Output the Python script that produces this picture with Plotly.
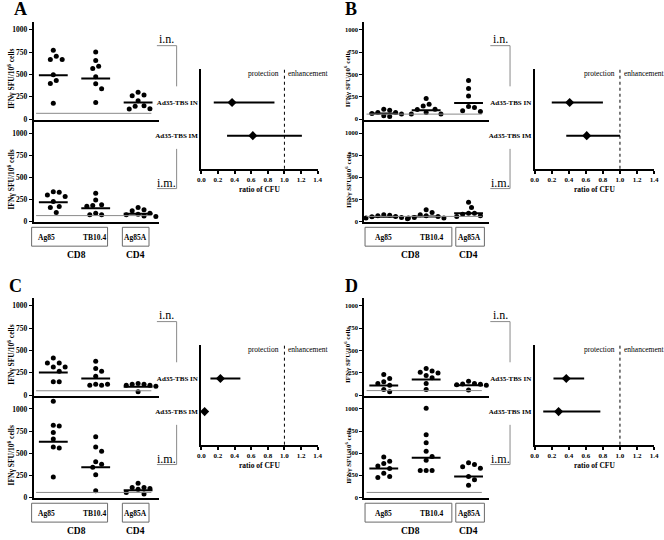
import plotly.graph_objects as go

W, H = 664, 540
FONT = "Liberation Serif"

# ---------------- data ----------------
categories = ["Ag85", "TB10.4", "Ag85A"]
tcell_labels = ["CD8", "CD4"]
route_labels = ["i.n.", "i.m."]
vaccine_labels = ["Ad35-TBS IN", "Ad35-TBS IM"]
panel_letters = ["A", "B", "C", "D"]
y_ticks = [0, 250, 500, 750, 1000]
ratio_ticks = [0.0, 0.2, 0.4, 0.6, 0.8, 1.0, 1.2, 1.4]
y_title = "IFNγ SFU/10<sup>6</sup> cells"
x_title = "ratio of CFU"

# Panel A
A_in_ag85 = [770, 704, 667, 667, 496, 433, 400, 178]
A_in_tb = [752, 656, 593, 567, 474, 396, 341, 185]
A_in_ag85a = [300, 270, 262, 205, 150, 145, 112, 115]
A_in_med = [490, 456, 185]
A_im_ag85 = [336, 330, 299, 280, 224, 168, 157, 100]
A_im_tb = [317, 243, 187, 180, 172, 93, 75, 75]
A_im_ag85a = [157, 131, 120, 93, 80, 75, 60, 56]
A_im_med = [216, 149, 85]
A_thr = [65, 65]
A_ratio = [0.37, 0.62]
A_lo = [0.15, 0.31]
A_hi = [0.88, 1.21]

# Panel B
B_in_ag85 = [111, 100, 74, 74, 63, 56, 37, 30]
B_in_tb = [230, 167, 148, 111, 108, 74, 56, 56]
B_in_ag85a = [433, 344, 259, 141, 130, 93, 85]
B_in_med = [63, 100, 181]
B_im_ag85 = [75, 70, 63, 56, 52, 45, 37, 30]
B_im_tb = [131, 100, 75, 63, 56, 45, 37, 37]
B_im_ag85a = [216, 157, 93, 93, 80, 63, 56]
B_im_med = [52, 56, 93]
B_thr = [56, 56]
B_ratio = [0.41, 0.61]
B_lo = [0.20, 0.37]
B_hi = [0.80, 1.00]

# Panel C
C_in_ag85 = [415, 359, 359, 315, 315, 267, 148, 148]
C_in_tb = [378, 296, 267, 211, 122, 111, 111, 122]
C_in_ag85a = [130, 122, 122, 111, 111, 100, 37]
C_in_med = [252, 185, 93]
C_im_ag85 = [1088, 817, 806, 733, 659, 568, 557, 231]
C_im_tb = [685, 568, 520, 403, 374, 341, 256, 73]
C_im_ag85a = [158, 110, 110, 100, 90, 55, 37]
C_im_med = [630, 341, 80]
C_thr = [48, 55]
C_ratio = [0.23, 0.04]
C_lo = [0.11, 0.035]
C_hi = [0.47, 0.045]

# Panel D
D_in_ag85 = [230, 185, 148, 130, 111, 63, 37]
D_in_tb = [296, 270, 256, 248, 219, 193, 130, 63]
D_in_ag85a = [156, 130, 125, 120, 115, 110, 56]
D_in_med = [107, 174, 111]
D_im_ag85 = [455, 407, 382, 353, 327, 273, 236, 225]
D_im_tb = [1007, 709, 618, 520, 462, 418, 302, 302, 302]
D_im_ag85a = [390, 370, 345, 330, 236, 200, 135]
D_im_med = [327, 447, 236]
D_thr = [50, 55]
D_ratio = [0.37, 0.28]
D_lo = [0.22, 0.10]
D_hi = [0.58, 0.77]

panels = [
    dict(inn=[A_in_ag85, A_in_tb, A_in_ag85a], im=[A_im_ag85, A_im_tb, A_im_ag85a],
         med=[A_in_med, A_im_med], thr=A_thr, r=A_ratio, lo=A_lo, hi=A_hi),
    dict(inn=[B_in_ag85, B_in_tb, B_in_ag85a], im=[B_im_ag85, B_im_tb, B_im_ag85a],
         med=[B_in_med, B_im_med], thr=B_thr, r=B_ratio, lo=B_lo, hi=B_hi),
    dict(inn=[C_in_ag85, C_in_tb, C_in_ag85a], im=[C_im_ag85, C_im_tb, C_im_ag85a],
         med=[C_in_med, C_im_med], thr=C_thr, r=C_ratio, lo=C_lo, hi=C_hi),
    dict(inn=[D_in_ag85, D_in_tb, D_in_ag85a], im=[D_im_ag85, D_im_tb, D_im_ag85a],
         med=[D_in_med, D_im_med], thr=D_thr, r=D_ratio, lo=D_lo, hi=D_hi),
]

# ---------------- layout helpers ----------------
def px(x):
    return x / W


def py(y):
    return 1 - y / H


def swarm(vals, ppv, unit_px, dot=6.0, step=3.0):
    placed, offs = [], []
    cands = [0.0]
    for i in range(1, 30):
        cands += [i * step, -i * step]
    for v in vals:
        yy = v * ppv
        c = 0.0
        for c in cands:
            if all((c - a) ** 2 + (yy - b) ** 2 >= dot ** 2 for a, b in placed):
                break
        placed.append((c, yy))
        offs.append(c / unit_px)
    return offs


XR = [0.535, 3.49]
fig = go.Figure()
layout = {}
shapes = []
annotations = []

col_cfg = [
    dict(sdx=0, fdx=0, fx=(200, 318), ytitle_x=7, tickfs=7.5, tfs=7.5,
         box1=(28, 105), box2=(120, 147), lab=(43, 92, 133), cd=(74, 133),
         rtext=165, rline=(155, 175)),
    dict(sdx=335, fdx=338, fx=(538, 659), ytitle_x=349, tickfs=6.5, tfs=7,
         box1=(366, 454), box2=(458, 487), lab=(385, 433, 472), cd=(412, 471),
         rtext=503, rline=(493, 513)),
]
row_dy = [0, 278]

letter_pos = [(17, 9), (352, 9), (12, 288), (352, 288)]


def axname(kind, i):
    return kind + ("" if i == 1 else str(i))


for p, pdat in enumerate(panels):
    col, row = p % 2, p // 2
    cfg = col_cfg[col]
    dy = row_dy[row]
    sdx = cfg["sdx"]
    unit_px = (157 - 30) / (XR[1] - XR[0])

    # --- two dot-plot axes (i.n. top, i.m. bottom)
    sub = [
        dict(data=pdat["inn"], med=pdat["med"][0], thr=pdat["thr"][0],
             ydom=(22, 121), yr=[-11, 1089], ppv=0.09),
        dict(data=pdat["im"], med=pdat["med"][1], thr=pdat["thr"][1],
             ydom=(122, 224), yr=[-11.2, 1135], ppv=0.089),
    ]
    for k, s in enumerate(sub):
        i = 3 * p + k + 1
        xa, ya = axname("xaxis", i), axname("yaxis", i)
        xr, yr = axname("x", i), axname("y", i)
        layout[xa] = dict(domain=[px(30 + sdx), px(157 + sdx)], range=XR, anchor=yr,
                          showline=True, linecolor="black", linewidth=2,
                          ticks="", showticklabels=False, showgrid=False, zeroline=False)
        layout[ya] = dict(domain=[py(s["ydom"][1] + dy), py(s["ydom"][0] + dy)],
                          range=s["yr"], anchor=xr, showline=True, linecolor="black",
                          linewidth=1.5, ticks="outside", ticklen=3, tickwidth=1,
                          tickcolor="black", tickvals=y_ticks,
                          tickfont=dict(family=FONT, size=cfg["tickfs"], color="black",
                                        weight="bold"),
                          showgrid=False, zeroline=False)
        for g, vals in enumerate(s["data"]):
            offs = swarm(vals, s["ppv"], unit_px)
            fig.add_trace(go.Scatter(x=[g + 1 + o for o in offs], y=vals, mode="markers",
                                     marker=dict(size=5, color="black"),
                                     xaxis=xr, yaxis=yr, cliponaxis=False,
                                     hoverinfo="y"))
            fig.add_trace(go.Scatter(x=[g + 1 - 0.34, g + 1 + 0.34],
                                     y=[s["med"][g], s["med"][g]], mode="lines",
                                     line=dict(color="black", width=2),
                                     xaxis=xr, yaxis=yr, hoverinfo="skip"))
        shapes.append(dict(type="line", xref=xr + " domain", yref=yr, x0=0.02, x1=0.94,
                           y0=s["thr"], y1=s["thr"],
                           line=dict(color="#8a8a8a", width=1)))
        # y title
        annotations.append(dict(x=px(cfg["ytitle_x"]),
                                y=py((s["ydom"][0] + s["ydom"][1]) / 2 + 8 + dy),
                                xref="paper", yref="paper", text=y_title, textangle=-90,
                                showarrow=False, xanchor="center", yanchor="middle",
                                font=dict(family=FONT, size=cfg["tfs"], color="black",
                                          weight="bold")))

    # --- forest plot
    i = 3 * p + 3
    xa, ya = axname("xaxis", i), axname("yaxis", i)
    xr, yr = axname("x", i), axname("y", i)
    fx0, fx1 = cfg["fx"]
    layout[xa] = dict(domain=[px(fx0), px(fx1)], range=[0, 1.4], anchor=yr,
                      showline=True, linecolor="black", linewidth=2, ticks="outside",
                      ticklen=3, tickwidth=1.5, tickcolor="black", tickvals=ratio_ticks,
                      tickformat=".1f",
                      tickfont=dict(family=FONT, size=7, color="black", weight="bold"),
                      showgrid=False, zeroline=False)
    layout[ya] = dict(domain=[py(170 + dy), py(70 + dy)], range=[0, 3], anchor=xr,
                      showline=True, linecolor="black", linewidth=2, ticks="",
                      tickvals=[2, 1], ticktext=vaccine_labels,
                      tickfont=dict(family=FONT, size=7, color="black", weight="bold"),
                      showgrid=False, zeroline=False)
    r, lo, hi = pdat["r"], pdat["lo"], pdat["hi"]
    fig.add_trace(go.Scatter(x=r, y=[2, 1], mode="markers",
                             marker=dict(symbol="diamond", size=7, color="black"),
                             error_x=dict(type="data", symmetric=False,
                                          array=[h - v for h, v in zip(hi, r)],
                                          arrayminus=[v - l for v, l in zip(r, lo)],
                                          thickness=2, width=0, color="black"),
                             xaxis=xr, yaxis=yr, cliponaxis=False))
    shapes.append(dict(type="line", xref=xr, yref=yr + " domain", x0=1, x1=1, y0=0, y1=1,
                       line=dict(color="black", width=1, dash="dot")))
    annotations.append(dict(x=1, y=0.96, xref=xr, yref=yr + " domain", text="protection",
                            showarrow=False, xanchor="right", yanchor="middle", xshift=-3,
                            font=dict(family=FONT, size=7.5, color="black")))
    annotations.append(dict(x=1, y=0.96, xref=xr, yref=yr + " domain", text="enhancement",
                            showarrow=False, xanchor="left", yanchor="middle", xshift=2,
                            font=dict(family=FONT, size=7.5, color="black")))
    annotations.append(dict(x=px((fx0 + fx1) / 2), y=py(191 + dy), xref="paper", yref="paper",
                            text=x_title, showarrow=False, xanchor="center", yanchor="middle",
                            font=dict(family=FONT, size=7.5, color="black", weight="bold")))

    # --- antigen boxes
    for (bx0, bx1) in (cfg["box1"], cfg["box2"]):
        shapes.append(dict(type="rect", xref="paper", yref="paper", x0=px(bx0), x1=px(bx1),
                           y0=py(248 + dy), y1=py(229 + dy),
                           line=dict(color="#6a6a6a", width=1)))
    for lx, lab in zip(cfg["lab"], categories):
        annotations.append(dict(x=px(lx), y=py(239 + dy), xref="paper", yref="paper",
                                text=lab, showarrow=False, xanchor="center", yanchor="middle",
                                font=dict(family=FONT, size=7.5, color="black", weight="bold")))
    for lx, lab in zip(cfg["cd"], tcell_labels):
        annotations.append(dict(x=px(lx), y=py(257 + dy), xref="paper", yref="paper",
                                text=lab, showarrow=False, xanchor="center", yanchor="middle",
                                font=dict(family=FONT, size=9.5, color="black", weight="bold")))

    # --- route labels with connectors
    rl0, rl1 = cfg["rline"]
    annotations.append(dict(x=px(cfg["rtext"]), y=py(39 + dy), xref="paper", yref="paper",
                            text=route_labels[0], showarrow=False, xanchor="center",
                            yanchor="middle", font=dict(family=FONT, size=12, color="black")))
    annotations.append(dict(x=px(cfg["rtext"]), y=py(184 + dy), xref="paper", yref="paper",
                            text=route_labels[1], showarrow=False, xanchor="center",
                            yanchor="middle", font=dict(family=FONT, size=12, color="black")))
    for (x0, y0, x1, y1) in [(rl0, 46, rl1, 46), (rl1, 46, rl1, 87),
                             (rl1, 150, rl1, 190), (rl0, 190, rl1, 190)]:
        shapes.append(dict(type="line", xref="paper", yref="paper", x0=px(x0), x1=px(x1),
                           y0=py(y0 + dy), y1=py(y1 + dy),
                           line=dict(color="#8a8a8a", width=1)))

    # --- panel letter
    lx, ly = letter_pos[p]
    annotations.append(dict(x=px(lx), y=py(ly), xref="paper", yref="paper",
                            text=panel_letters[p], showarrow=False, xanchor="center",
                            yanchor="middle",
                            font=dict(family=FONT, size=18, color="black", weight="bold")))

fig.update_layout(width=W, height=H, margin=dict(l=0, r=0, t=0, b=0),
                  paper_bgcolor="white", plot_bgcolor="white", showlegend=False,
                  shapes=shapes, annotations=annotations, **layout)
fig.write_html("out.html", config={"displayModeBar": False},
               post_script="document.body.style.margin='0';document.body.style.overflow='hidden';")
